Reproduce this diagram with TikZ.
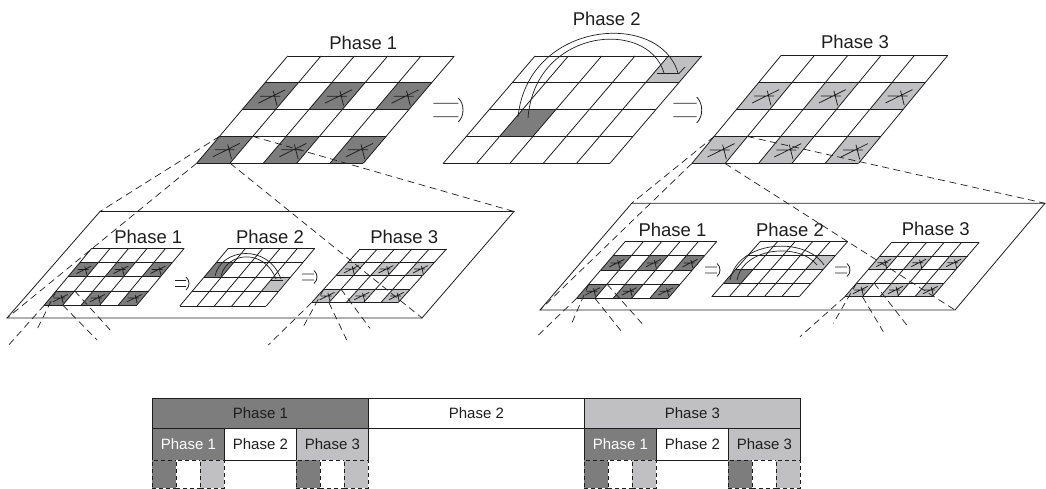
\documentclass[tikz,border=0pt]{standalone}
\usepackage{fontspec}
\setmainfont{Liberation Sans}
\definecolor{dk}{RGB}{125,125,125}
\definecolor{lt}{RGB}{192,192,194}
\definecolor{ink}{RGB}{30,30,30}
\tikzset{
 gridsys/.style n args={5}{shift={(#1,#2)}, x={(#3pt,0pt)}, y={(-#5pt,-#4pt)}},
 gl/.style={line width=0.8pt, draw=ink},
 crossline/.style={line width=0.75pt, draw=ink},
 xm/.pic={\draw[crossline] (-10pt,0pt)--(10pt,0pt) (-12pt,-7pt)--(15pt,6.4pt) (3pt,5.4pt)--(6.7pt,-9.3pt);},
 proj/.style={line width=0.7pt, dash pattern=on 7pt off 4.5pt, draw=ink},
 arcl/.style={line width=0.7pt, draw=ink},
 panel/.style={line width=0.8pt, draw=ink},
 lab/.style={font=\fontsize{18.5}{22}\selectfont, anchor=base, inner sep=0pt, text=ink},
 tc/.style={draw=ink, line width=0.8pt, inner sep=0pt, font=\fontsize{15}{18}\selectfont, text=ink, anchor=north west},
 tcd/.style={draw=ink, line width=0.8pt, inner sep=0pt, dash pattern=on 4pt off 3pt, anchor=north west, minimum width=24pt, minimum height=27.5pt}
}
\newcommand\gridlines{\foreach \k in {0,...,4}{\draw[gl] (0,\k) -- (5,\k);}\foreach \k in {0,...,5}{\draw[gl] (\k,0) -- (\k,4);}}
\newcommand\shadecells[2]{\foreach \i/\j in {#2}{\fill[#1] (\i,\j) -- ++(1,0) -- ++(0,1) -- ++(-1,0) -- cycle;}}
\newcommand\xcrosses[2]{\foreach \i/\j in {#2}{\pic[scale=#1] at (\i+.5,\j+.5) {xm};}}
\newcommand\cellcorners[1]{\coordinate (#1a) at (0,3); \coordinate (#1b) at (1,3); \coordinate (#1c) at (1,4); \coordinate (#1d) at (0,4);}
\newcommand\dbl[6]{\draw[gl] (#1,#3-#4) -- (#2,#3-#4) (#1,#3+#4) -- (#2,#3+#4) (#2,#3-#5) .. controls (#6,#3-0.5*#5) and (#6,#3+0.5*#5) .. (#2,#3+#5);}
\begin{document}
\begin{tikzpicture}[x=1pt,y=-1pt]
\useasboundingbox (0,0) rectangle (1046,488);
% panels
\coordinate (lptl) at (100,211.5); \coordinate (lptr) at (514,211.5);
\coordinate (lpbr) at (422,318); \coordinate (lpbl) at (7,318);
\coordinate (rptl) at (631.7,203.3); \coordinate (rptr) at (1045,203.3);
\coordinate (rpbr) at (955,310); \coordinate (rpbl) at (540,310);
\draw[panel] (lptl) -- (lptr) -- (lpbr) -- (lpbl) -- cycle;
\draw[panel] (rptl) -- (rptr) -- (rpbr) -- (rpbl) -- cycle;
% big grids
\begin{scope}[gridsys={287.7}{56}{33.33}{26.8}{22.75}]
 \shadecells{dk}{0/1,2/1,4/1,0/3,2/3,4/3}
 \gridlines
 \xcrosses{1}{0/1,2/1,4/1,0/3,2/3,4/3}
 \cellcorners{ga}
\end{scope}
\begin{scope}[gridsys={535}{56}{33.33}{26.8}{22.9}]
 \shadecells{dk}{1/2}
 \shadecells{lt}{4/0}
 \gridlines
\end{scope}
\begin{scope}[gridsys={781}{55.5}{33.33}{27}{22.3}]
 \shadecells{lt}{0/1,2/1,4/1,0/3,2/3,4/3}
 \gridlines
 \xcrosses{1}{0/1,2/1,4/1,0/3,2/3,4/3}
 \cellcorners{gc}
\end{scope}
% left panel grids
\begin{scope}[gridsys={91.7}{248.3}{18.5}{14.2}{11.85}]
 \shadecells{dk}{0/1,2/1,4/1,0/3,2/3,4/3}
 \gridlines
 \xcrosses{0.55}{0/1,2/1,4/1,0/3,2/3,4/3}
 \cellcorners{la}
\end{scope}
\begin{scope}[gridsys={228.3}{248.3}{17.3}{14.4}{12.1}]
 \shadecells{dk}{0/1}
 \shadecells{lt}{4/2}
 \gridlines
\end{scope}
\begin{scope}[gridsys={360}{249}{17.3}{13.4}{12.1}]
 \shadecells{lt}{0/1,2/1,4/1,0/3,2/3,4/3}
 \gridlines
 \xcrosses{0.55}{0/1,2/1,4/1,0/3,2/3,4/3}
 \cellcorners{lc}
\end{scope}
% right panel grids
\begin{scope}[gridsys={625}{241.7}{18.3}{14.15}{12.1}]
 \shadecells{dk}{0/1,2/1,4/1,0/3,2/3,4/3}
 \gridlines
 \xcrosses{0.55}{0/1,2/1,4/1,0/3,2/3,4/3}
 \cellcorners{ra}
\end{scope}
\begin{scope}[gridsys={760}{241.7}{17.5}{13.75}{12.07}]
 \shadecells{dk}{0/2}
 \shadecells{lt}{4/1}
 \gridlines
\end{scope}
\begin{scope}[gridsys={891.7}{242.3}{17.5}{13.6}{11.7}]
 \shadecells{lt}{0/1,2/1,4/1,0/3,2/3,4/3}
 \gridlines
 \xcrosses{0.55}{0/1,2/1,4/1,0/3,2/3,4/3}
 \cellcorners{rc}
\end{scope}
% arcs
\coordinate (b2s1) at (518,117); \coordinate (b2e1) at (678,73);
\coordinate (b2s2) at (528,118); \coordinate (b2e2) at (664,73);
\draw[arcl] (b2s1) .. controls (528,20) and (660,10) .. (b2e1);
\draw[arcl] (b2s2) .. controls (535,28) and (648,18) .. (b2e2);
\draw[arcl] (657,73.5) -- (679,73.5) -- (685,67);
\coordinate (l2s1) at (215,276); \coordinate (l2e1) at (281,279);
\coordinate (l2s2) at (221,276); \coordinate (l2e2) at (276,279);
\draw[arcl] (l2s1) .. controls (221,248) and (268,243) .. (l2e1);
\draw[arcl] (l2s2) .. controls (227,252) and (264,248) .. (l2e2);
\draw[arcl] (270,280.5) -- (283,280.5);
\coordinate (r2s1) at (730,280); \coordinate (r2e1) at (824,265);
\coordinate (r2s2) at (737,280); \coordinate (r2e2) at (817,265);
\draw[arcl] (r2s1) .. controls (738,240) and (805,236) .. (r2e1);
\draw[arcl] (r2s2) .. controls (744,246) and (800,243) .. (r2e2);
% double arrows
\dbl{433.3}{458.3}{110}{6.7}{12}{464.6}
\dbl{673.3}{696.7}{110}{6.7}{13}{703.4}
\dbl{175}{186}{283.5}{3}{6.5}{190}
\dbl{302}{314}{277}{3}{6.5}{318}
\dbl{705}{717}{270}{3}{6.5}{721}
\dbl{835}{847}{270}{3}{6.5}{851}
% labels
\node[lab] (t1) at (363.3,49.3) {Phase 1};
\node[lab] (t2) at (606.7,25) {Phase 2};
\node[lab] (t3) at (855,48.5) {Phase 3};
\node[lab] (l1) at (148.3,243.3) {Phase 1};
\node[lab] (l2) at (270,243.3) {Phase 2};
\node[lab] (l3) at (404.2,243.3) {Phase 3};
\node[lab] (r1) at (672.5,236.7) {Phase 1};
\node[lab] (r2) at (790,236.7) {Phase 2};
\node[lab] (r3) at (935.8,235.5) {Phase 3};
% projection lines, level 1
\draw[proj] (gaa) -- (lptl); \draw[proj] (gab) -- (lptr);
\draw[proj] (gac) -- (lpbr); \draw[proj] (gad) -- (lpbl);
\draw[proj] (gca) -- (rptl); \draw[proj] (gcb) -- (rptr);
\draw[proj] (gcc) -- (rpbr); \draw[proj] (gcd) -- (rpbl);
% projection lines, level 2
\coordinate (lae1) at (36.7,330); \coordinate (lae2) at (112,332);
\coordinate (lae3) at (97,340); \coordinate (lae4) at (7,347);
\coordinate (lce1) at (303.3,326.7); \coordinate (lce2) at (370,328.3);
\coordinate (lce3) at (346.7,340); \coordinate (lce4) at (268.3,345);
\coordinate (rae1) at (571.7,323.3); \coordinate (rae2) at (643.3,325);
\coordinate (rae3) at (621.7,331.7); \coordinate (rae4) at (536.7,336.7);
\coordinate (rce1) at (833.3,323.3); \coordinate (rce2) at (906.7,325);
\coordinate (rce3) at (883.3,331.7); \coordinate (rce4) at (800,336.7);
\foreach \g in {la,lc,ra,rc}{
 \draw[proj] (\g a) -- (\g e1); \draw[proj] (\g b) -- (\g e2);
 \draw[proj] (\g c) -- (\g e3); \draw[proj] (\g d) -- (\g e4);
}
% table
\node[tc, fill=dk, minimum width=216pt, minimum height=30pt] (h1) at (152,398) {Phase 1};
\node[tc, fill=white, minimum width=216pt, minimum height=30pt] (h2) at (368,398) {Phase 2};
\node[tc, fill=lt, minimum width=216pt, minimum height=30pt] (h3) at (584,398) {Phase 3};
\node[tc, fill=dk, text=white, minimum width=72pt, minimum height=32pt] (s1) at (152,428) {Phase 1};
\node[tc, fill=white, minimum width=72pt, minimum height=32pt] (s2) at (224,428) {Phase 2};
\node[tc, fill=lt, minimum width=72pt, minimum height=32pt] (s3) at (296,428) {Phase 3};
\node[tc, fill=dk, text=white, minimum width=72pt, minimum height=32pt] (s4) at (584,428) {Phase 1};
\node[tc, fill=white, minimum width=72pt, minimum height=32pt] (s5) at (656,428) {Phase 2};
\node[tc, fill=lt, minimum width=72pt, minimum height=32pt] (s6) at (728,428) {Phase 3};
\foreach \x [count=\n] in {152,296,584,728}{
 \node[tcd, fill=dk] (q\n a) at (\x,460) {};
 \node[tcd, fill=white] (q\n b) at (\x+24,460) {};
 \node[tcd, fill=lt] (q\n c) at (\x+48,460) {};
}
\end{tikzpicture}
\end{document}
